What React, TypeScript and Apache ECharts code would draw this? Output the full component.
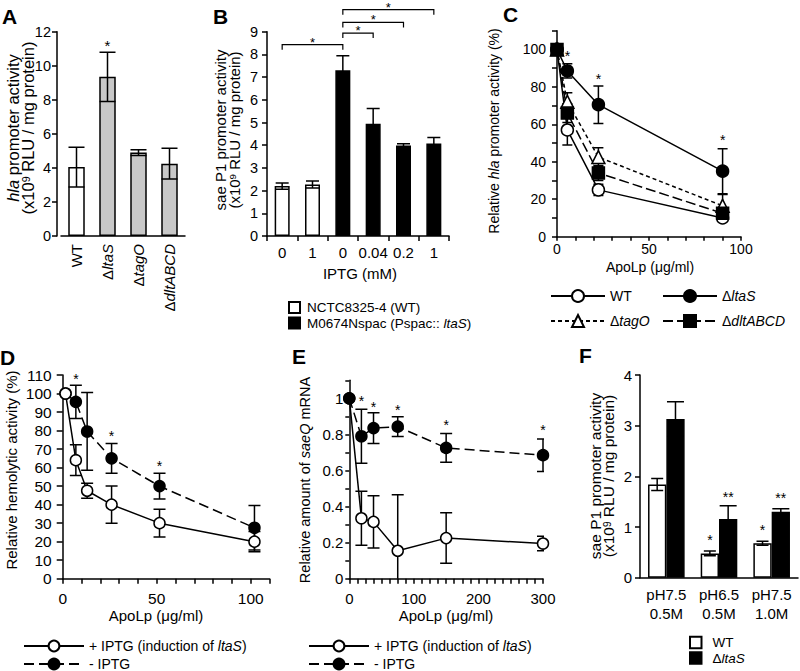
import React, { useEffect, useRef } from 'react';
import * as echarts from 'echarts';

const FONT = '"Liberation Sans", Arial, Helvetica, sans-serif';
const LW = 1.5;
const GRAY = '#c8c8c8';

// ---------- Panel A ----------
const aCategories = ['WT', 'ΔltaS', 'ΔtagO', 'ΔdltABCD'];
const aValues = [4.05, 9.35, 4.9, 4.25];
const aErrors = [1.17, 1.45, 0.17, 0.9];
const aStarIdx = [1];
const aStarY = [11.4];

// ---------- Panel B ----------
const bCategories = ['0', '1', '0', '0.04', '0.2', '1'];
const bWT = [2.2, 2.27, null, null, null, null];
const bWTErr = [0.14, 0.15, 0, 0, 0, 0];
const bSpac = [null, null, 7.3, 4.94, 3.99, 4.08];
const bSpacErr = [0, 0, 0.64, 0.68, 0.07, 0.26];
const bBracketFrom = [0, 2, 2, 2];
const bBracketTo = [2, 3, 4, 5];
const bBracketY = [8.43, 8.94, 9.41, 9.97];

// ---------- Panel C ----------
const cDose = [0, 5.625, 22.5, 90];
const cWT = [100, 57, 25, 10];
const cWTErr = [0, 8, 3, 1.5];
const cLtaS = [100, 88.5, 70.5, 35];
const cLtaSErr = [0, 3.8, 10, 12];
const cTagO = [100, 72, 42.5, 16.5];
const cTagOErr = [0, 4.8, 5, 6];
const cDlt = [100, 66, 34, 12.5];
const cDltErr = [0, 5, 4, 2];
const cStarX = [5.625, 22.5, 90];
const cStarY = [98, 86, 53.5];

// ---------- Panel D ----------
const dDose = [1.5, 7, 13, 26, 51.5, 102];
const dPlus = [100, 64, 47.5, 40, 30, 20];
const dPlusErr = [0, 8.3, 4, 10, 7.5, 5.5];
const dMinus = [100, 95.5, 79.5, 65, 50, 27.5];
const dMinusErr = [0, 9, 21, 8, 7, 12];
const dStarX = [7, 26, 51.5];
const dStarY = [109.6, 78.5, 62.3];

// ---------- Panel E ----------
const eDose = [0, 18.75, 37.5, 75, 150, 300];
const ePlus = [1, 0.335, 0.315, 0.155, 0.225, 0.195];
const ePlusErr = [0, 0.15, 0.145, 0.31, 0.14, 0.04];
const eMinus = [1, 0.79, 0.835, 0.843, 0.725, 0.685];
const eMinusErr = [0, 0.15, 0.085, 0.055, 0.08, 0.09];
const eStarX = [18.75, 37.5, 75, 150, 300];
const eStarY = [1.0, 0.97, 0.955, 0.867, 0.843];

// ---------- Panel F ----------
const fCategories = ['pH7.5\n0.5M', 'pH6.5\n0.5M', 'pH7.5\n1.0M'];
const fWT = [1.84, 0.48, 0.68];
const fWTErr = [0.12, 0.045, 0.04];
const fLtaS = [3.13, 1.16, 1.3];
const fLtaSErr = [0.34, 0.26, 0.06];
const fWTStarIdx = [1, 2];
const fWTStarY = [0.81, 1.0];
const fLtaSStarIdx = [1, 2];
const fLtaSStarY = [1.66, 1.63];

const legendLabel: Record<string, string> = {
  'M0674Nspac (Pspac:: ltaS)': 'M0674Nspac (Pspac:: {i|ltaS})',
  'ΔltaS': 'Δ{i|ltaS}',
  'ΔtagO': 'Δ{i|tagO}',
  'ΔdltABCD': 'Δ{i|dltABCD}',
  '+ IPTG (induction of ltaS)': '+ IPTG (induction of {i|ltaS})',
  'WT (F)': 'WT',
  'ΔltaS (F)': 'Δ{i|ltaS}',
};

const geneRich = (s: string) => (s.startsWith('Δ') ? `Δ{i|${s.slice(1)}}` : s);

const axLine = { show: true, onZero: false, lineStyle: { color: '#000', width: LW } };
const axTick = (len = 5) => ({ show: true, length: len, lineStyle: { color: '#000', width: LW } });
const axLabel = (fontSize: number, margin: number, extra: any = {}) => ({
  color: '#000', fontSize, fontFamily: FONT, margin, ...extra,
});

function errSeries(gi: number, xs: number[], ys: (number | null)[], es: number[], cap: number, dx = 0) {
  return {
    type: 'custom', xAxisIndex: gi, yAxisIndex: gi, clip: true, silent: true, z: 3,
    data: xs.map((x, i) => [x, ys[i], es[i]]).filter((d) => d[1] != null && (d[2] as number) > 0),
    renderItem: (params: any, api: any) => {
      const x = api.value(0), y = api.value(1), e = api.value(2);
      const t = api.coord([x, y + e]);
      const b = api.coord([x, y - e]);
      const cx = t[0] + dx;
      const st = { stroke: '#000', lineWidth: LW };
      return {
        type: 'group', children: [
          { type: 'line', shape: { x1: cx, y1: t[1], x2: cx, y2: b[1] }, style: st },
          { type: 'line', shape: { x1: cx - cap, y1: t[1], x2: cx + cap, y2: t[1] }, style: st },
          { type: 'line', shape: { x1: cx - cap, y1: b[1], x2: cx + cap, y2: b[1] }, style: st },
        ],
      };
    },
  };
}

function starSeries(gi: number, xs: number[], ys: number[], text: string, fontSize: number, dx = 0) {
  return {
    type: 'custom', xAxisIndex: gi, yAxisIndex: gi, clip: false, silent: true, z: 6,
    data: xs.map((x, i) => [x, ys[i]]),
    renderItem: (params: any, api: any) => {
      const p = api.coord([api.value(0), api.value(1)]);
      return {
        type: 'text', x: p[0] + dx, y: p[1] + fontSize * 0.22,
        style: { text, fontSize, fontFamily: FONT, fill: '#000', align: 'center', verticalAlign: 'middle' },
      };
    },
  };
}

function lineSeries(gi: number, name: string, xs: number[], ys: number[], symbol: string, filled: boolean, dash: any, size: number) {
  return {
    type: 'line', name, xAxisIndex: gi, yAxisIndex: gi, z: 5, silent: true,
    data: xs.map((x, i) => [x, ys[i]]),
    symbol, symbolSize: size, showSymbol: true, showAllSymbol: true,
    itemStyle: { color: filled ? '#000' : '#fff', borderColor: '#000', borderWidth: LW },
    lineStyle: { color: '#000', width: LW, type: dash },
    emphasis: { disabled: true },
  };
}

function legendItem(name: string, left: number, top: number, w: number, h: number, icon?: string, gap = 0, lineHeight = 15, fs = 14) {
  const o: any = {
    data: [name], left, top, orient: 'horizontal', itemWidth: w, itemHeight: h, padding: 0,
    selectedMode: false,
    textStyle: {
      color: '#000', fontSize: fs, fontFamily: FONT, lineHeight,
      rich: {
        i: { fontStyle: 'italic', fontSize: fs, fontFamily: FONT, color: '#000', lineHeight },
        g: { width: gap, fontSize: fs, lineHeight },
      },
    },
    formatter: (n: string) => (gap > 0 ? '{g| }' : '') + (legendLabel[n] ?? n),
  };
  if (icon) o.icon = icon;
  return o;
}

function title(x: number, y: number, text: string, fontSize: number, rotate: boolean, lineHeight?: number) {
  const lh = lineHeight ?? fontSize;
  return {
    type: 'text', x, y, rotation: rotate ? Math.PI / 2 : 0, silent: true,
    style: {
      text, fontSize, fontFamily: FONT, fill: '#000', align: 'center', verticalAlign: 'middle', lineHeight: lh,
      rich: {
        i: { fontStyle: 'italic', fontSize, fontFamily: FONT, fill: '#000', lineHeight: lh },
        s: { fontSize: fontSize * 0.65, fontFamily: FONT, fill: '#000', verticalAlign: 'top', lineHeight: lh },
      },
    },
  };
}

function letter(x: number, y: number, t: string) {
  return {
    type: 'text', x, y, silent: true,
    style: { text: t, fontSize: 21, fontWeight: 'bold', fontFamily: FONT, fill: '#000', align: 'left', verticalAlign: 'middle' },
  };
}

export default function App() {
  const ref = useRef<HTMLDivElement>(null);
  useEffect(() => {
    if (!ref.current) return;
    const chart = echarts.init(ref.current, undefined, { renderer: 'svg' });
    const italicRich = (fs: number) => ({ i: { fontStyle: 'italic', fontSize: fs, fontFamily: FONT, color: '#000' } });

    const option: any = {
      animation: false,
      textStyle: { fontFamily: FONT },
      grid: [
        { left: 61, top: 31.7, width: 124, height: 204.3, outerBoundsMode: 'none' },
        { left: 267, top: 31.7, width: 182, height: 204.3, outerBoundsMode: 'none' },
        { left: 557, top: 30.7, width: 184, height: 206, outerBoundsMode: 'none' },
        { left: 62.7, top: 375, width: 206.8, height: 203.7, outerBoundsMode: 'none' },
        { left: 349.3, top: 380.3, width: 193.7, height: 198.4, outerBoundsMode: 'none' },
        { left: 640, top: 375, width: 158, height: 202.7, outerBoundsMode: 'none' },
      ],
      xAxis: [
        {
          type: 'category', gridIndex: 0, data: aCategories, axisLine: axLine, axisTick: { show: false },
          axisLabel: axLabel(15, 8, { rotate: 90, interval: 0, formatter: geneRich, rich: italicRich(15) }),
        },
        {
          type: 'category', gridIndex: 1, data: bCategories, axisLine: axLine, axisTick: axTick(5),
          axisLabel: axLabel(15, 9, { interval: 0 }),
        },
        {
          type: 'value', gridIndex: 2, min: 0, max: 100, interval: 10, splitLine: { show: false },
          axisLine: axLine, axisTick: axTick(4),
          axisLabel: axLabel(14, 5, { formatter: (v: number) => (v % 50 === 0 ? String(v) : '') }),
        },
        {
          type: 'value', gridIndex: 3, min: 0, max: 110, interval: 10, splitLine: { show: false },
          axisLine: axLine, axisTick: axTick(5),
          axisLabel: axLabel(15.5, 12, { formatter: (v: number) => (v % 50 === 0 ? String(v) : '') }),
        },
        {
          type: 'value', gridIndex: 4, min: 0, max: 300, interval: 12.5, splitLine: { show: false },
          axisLine: axLine, axisTick: axTick(5),
          axisLabel: axLabel(15, 12, { formatter: (v: number) => (v % 100 === 0 ? String(v) : '') }),
        },
        {
          type: 'category', gridIndex: 5, data: fCategories, axisLine: axLine, axisTick: { show: false },
          axisLabel: axLabel(15, 7, { interval: 0, lineHeight: 19 }),
        },
      ],
      yAxis: [
        {
          type: 'value', gridIndex: 0, min: 0, max: 12, interval: 2, offset: 4, splitLine: { show: false },
          axisLine: axLine, axisTick: axTick(5), axisLabel: axLabel(14.5, 6),
        },
        {
          type: 'value', gridIndex: 1, min: 0, max: 9, interval: 1, splitLine: { show: false },
          axisLine: axLine, axisTick: axTick(5), axisLabel: axLabel(14.5, 9),
        },
        {
          type: 'value', gridIndex: 2, min: 0, max: 110, interval: 10, splitLine: { show: false },
          axisLine: axLine, axisTick: axTick(5),
          axisLabel: axLabel(14, 11, { formatter: (v: number) => (v % 20 === 0 ? String(v) : '') }),
        },
        {
          type: 'value', gridIndex: 3, min: 0, max: 110, interval: 10, splitLine: { show: false },
          axisLine: axLine, axisTick: axTick(6), axisLabel: axLabel(15.5, 11),
        },
        {
          type: 'value', gridIndex: 4, min: 0, max: 1.1, interval: 0.1, splitLine: { show: false },
          axisLine: axLine, axisTick: axTick(4),
          axisLabel: axLabel(15, 6, {
            formatter: (v: number) => {
              const r = Math.round(v * 10);
              return r % 2 === 0 ? String(r / 10) : '';
            },
          }),
        },
        {
          type: 'value', gridIndex: 5, min: 0, max: 4, interval: 1, splitLine: { show: false },
          axisLine: axLine, axisTick: axTick(5), axisLabel: axLabel(15, 8),
        },
      ],
      legend: [
        legendItem('NCTC8325-4 (WT)', 288, 300.5, 11, 11, 'rect', 2, 14, 13.5),
        legendItem('M0674Nspac (Pspac:: ltaS)', 288, 316, 11, 11, 'rect', 2, 14, 13.5),
        legendItem('WT', 550, 288.5, 54, 15),
        legendItem('ΔltaS', 662, 288.5, 54, 15),
        legendItem('ΔtagO', 550, 313.5, 54, 15),
        legendItem('ΔdltABCD', 662, 313.5, 54, 15),
        legendItem('+ IPTG (induction of ltaS)', 23, 638.5, 60, 13.5),
        legendItem('- IPTG', 23, 656.5, 60, 13.5),
        legendItem('+ IPTG (induction of ltaS)', 308, 638.5, 60, 13.5),
        legendItem('- IPTG', 308, 656.5, 60, 13.5),
        legendItem('WT (F)', 689, 635.5, 11.5, 11.5, 'rect', 6, 14, 13.5),
        legendItem('ΔltaS (F)', 689, 651, 11.5, 11.5, 'rect', 6, 14, 13.5),
      ],
      series: [
        // A
        {
          type: 'bar', xAxisIndex: 0, yAxisIndex: 0, z: 2, silent: true, barWidth: 16.5,
          data: aValues.map((v, i) => ({ value: v, itemStyle: { color: i === 0 ? '#fff' : GRAY } })),
          itemStyle: { borderColor: '#000', borderWidth: LW },
        },
        errSeries(0, aValues.map((_, i) => i), aValues, aErrors, 8),
        starSeries(0, aStarIdx, aStarY, '*', 15),
        // B
        {
          type: 'bar', name: 'NCTC8325-4 (WT)', xAxisIndex: 1, yAxisIndex: 1, z: 2, silent: true, barWidth: 15,
          data: bWT.map((v) => (v == null ? '-' : v)), barGap: '-100%',
          itemStyle: { color: '#fff', borderColor: '#000', borderWidth: LW },
        },
        {
          type: 'bar', name: 'M0674Nspac (Pspac:: ltaS)', xAxisIndex: 1, yAxisIndex: 1, z: 2, silent: true, barWidth: 15,
          data: bSpac.map((v) => (v == null ? '-' : v)), barGap: '-100%',
          itemStyle: { color: '#000', borderColor: '#000', borderWidth: LW },
        },
        errSeries(1, bWT.map((_, i) => i), bWT, bWTErr, 6.5),
        errSeries(1, bSpac.map((_, i) => i), bSpac, bSpacErr, 6.5),
        {
          type: 'custom', xAxisIndex: 1, yAxisIndex: 1, clip: false, silent: true, z: 6,
          data: bBracketFrom.map((f, i) => [f, bBracketTo[i], bBracketY[i]]),
          renderItem: (params: any, api: any) => {
            const a = api.coord([api.value(0), api.value(2)]);
            const b = api.coord([api.value(1), api.value(2)]);
            return {
              type: 'group', children: [
                {
                  type: 'polyline',
                  shape: { points: [[a[0], a[1] + 5], [a[0], a[1]], [b[0], a[1]], [b[0], a[1] + 5]] },
                  style: { stroke: '#000', fill: null, lineWidth: 1.2 },
                },
                {
                  type: 'text', x: (a[0] + b[0]) / 2, y: a[1] - 2.5,
                  style: { text: '*', fontSize: 13, fontFamily: FONT, fill: '#000', align: 'center', verticalAlign: 'middle' },
                },
              ],
            };
          },
        },
        // C
        errSeries(2, cDose, cWT, cWTErr, 5),
        errSeries(2, cDose, cLtaS, cLtaSErr, 5),
        errSeries(2, cDose, cTagO, cTagOErr, 5),
        errSeries(2, cDose, cDlt, cDltErr, 5),
        lineSeries(2, 'WT', cDose, cWT, 'circle', false, 'solid', 12),
        lineSeries(2, 'ΔltaS', cDose, cLtaS, 'circle', true, 'solid', 12),
        lineSeries(2, 'ΔtagO', cDose, cTagO, 'triangle', false, [4, 3], 13),
        lineSeries(2, 'ΔdltABCD', cDose, cDlt, 'rect', true, [10, 4], 12),
        starSeries(2, cStarX, cStarY, '*', 14),
        // D
        errSeries(3, dDose, dPlus, dPlusErr, 6),
        errSeries(3, dDose, dMinus, dMinusErr, 6),
        lineSeries(3, '- IPTG', dDose, dMinus, 'circle', true, [10, 5], 11),
        lineSeries(3, '+ IPTG (induction of ltaS)', dDose, dPlus, 'circle', false, 'solid', 11),
        starSeries(3, dStarX, dStarY, '*', 14),
        // E
        errSeries(4, eDose, ePlus, ePlusErr, 6),
        errSeries(4, eDose, eMinus, eMinusErr, 6),
        lineSeries(4, '+ IPTG (induction of ltaS)', eDose, ePlus, 'circle', false, 'solid', 11),
        lineSeries(4, '- IPTG', eDose, eMinus, 'circle', true, [10, 5], 11),
        starSeries(4, eStarX, eStarY, '*', 14),
        // F
        {
          type: 'bar', name: 'WT (F)', xAxisIndex: 5, yAxisIndex: 5, z: 2, silent: true, barWidth: 18.3, barGap: '0%',
          data: fWT, itemStyle: { color: '#fff', borderColor: '#000', borderWidth: LW },
        },
        {
          type: 'bar', name: 'ΔltaS (F)', xAxisIndex: 5, yAxisIndex: 5, z: 2, silent: true, barWidth: 18.3, barGap: '0%',
          data: fLtaS, itemStyle: { color: '#000', borderColor: '#000', borderWidth: LW },
        },
        errSeries(5, fWT.map((_, i) => i), fWT, fWTErr, 6, -9.15),
        errSeries(5, fLtaS.map((_, i) => i), fLtaS, fLtaSErr, 8.5, 9.15),
        starSeries(5, fWTStarIdx, fWTStarY, '*', 14, -9.15),
        starSeries(5, fLtaSStarIdx, fLtaSStarY, '**', 14, 9.15),
      ],
      graphic: [
        letter(2, 16.5, 'A'),
        letter(213, 16.5, 'B'),
        letter(503, 14.5, 'C'),
        letter(0, 357, 'D'),
        letter(292, 356.5, 'E'),
        letter(579, 355.5, 'F'),
        title(20.5, 128, '{i|hla} promoter activity\n(x10{s|9} RLU / mg protein)', 16.5, true, 15.5),
        title(227, 130, 'sae P1 promoter activity\n(x10{s|9} RLU / mg protein)', 15, true, 14),
        title(494, 131, 'Relative {i|hla} promoter activity (%)', 14, true),
        title(11, 470, 'Relative hemolytic activity (%)', 15, true),
        title(305, 480, 'Relative amount of {i|saeQ} mRNA', 14.5, true),
        title(602, 476, 'sae P1 promoter activity\n(x10{s|9} RLU / mg protein)', 15.5, true, 12.5),
        title(360, 273, 'IPTG (mM)', 15, false),
        title(650, 267, 'ApoLp (μg/ml)', 14, false),
        title(156, 615, 'ApoLp (μg/ml)', 15, false),
        title(446, 615, 'ApoLp (μg/ml)', 15, false),
      ],
    };
    chart.setOption(option);
    return () => chart.dispose();
  }, []);
  return <div ref={ref} style={{ position: 'fixed', left: 0, top: 0, width: 800, height: 671, background: '#fff' }} />;
}
